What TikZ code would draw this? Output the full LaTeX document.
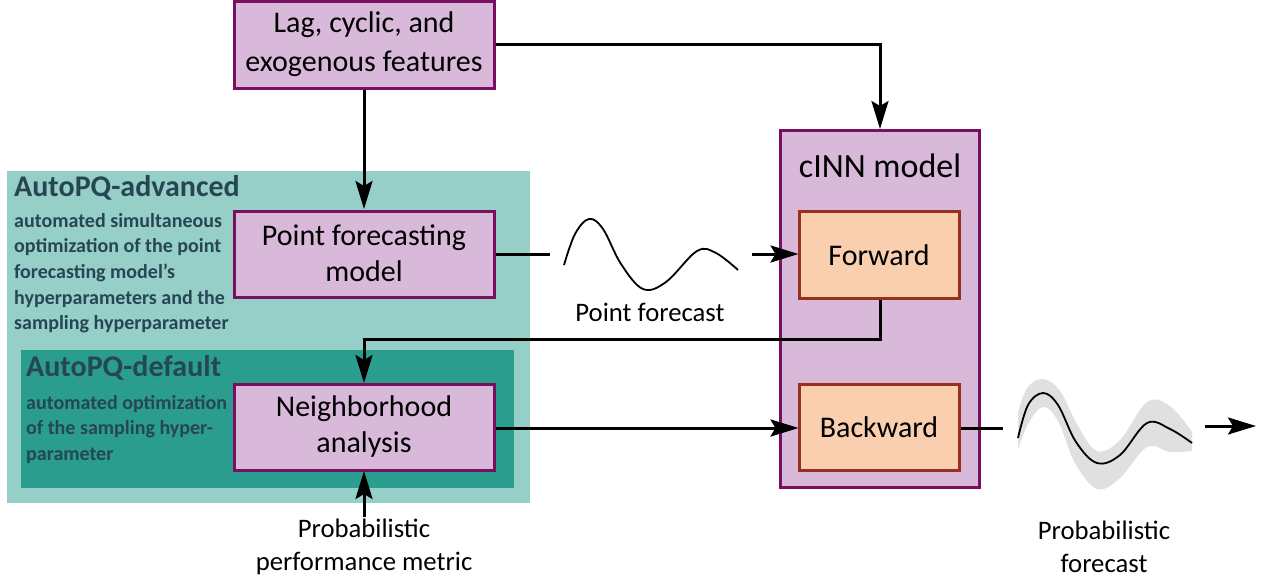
\documentclass[tikz,border=0pt]{standalone}
\usepackage{fontspec}
\setmainfont{Carlito}
\usetikzlibrary{arrows.meta}
\definecolor{boxfill}{HTML}{D9B9DA}
\definecolor{boxline}{HTML}{7A0F62}
\definecolor{subfill}{HTML}{F9CFB0}
\definecolor{subline}{HTML}{983020}
\definecolor{advfill}{HTML}{96CFC8}
\definecolor{deffill}{HTML}{2A9D8F}
\definecolor{headtxt}{HTML}{264653}
\definecolor{bandgrey}{HTML}{E0E0E0}
\tikzset{
  box/.style={draw=boxline, fill=boxfill, line width=3pt, inner sep=0pt},
  subbox/.style={draw=subline, fill=subfill, line width=3pt, inner sep=0pt},
  boxtext/.style={font=\fontsize{30}{36}\selectfont, align=center, inner sep=0pt},
  heading/.style={font=\fontsize{30}{36}\bfseries\selectfont, text=headtxt, inner sep=0pt, anchor=base west},
  desc/.style={font=\fontsize{20}{25.6}\bfseries\selectfont, text=headtxt, inner sep=0pt, align=left, anchor=north west},
  flow/.style={line width=3pt, -{Stealth[length=28pt,width=17pt,inset=5pt]}},
  plain/.style={line width=3pt},
  label/.style={font=\fontsize{26.7}{33}\selectfont, align=center, inner sep=0pt}
}
\begin{document}
\begin{tikzpicture}[x=1pt,y=-1pt]
\useasboundingbox (0,0) rectangle (1265,581);

% optimisation regions
\fill[advfill] (7,171) rectangle (530,503);
\fill[deffill] (21,350) rectangle (514,488);
\node[heading] (advhead) at (14,196) {AutoPQ-advanced};
\node[desc] (advdesc) at (14,213) {automated simultaneous\\optimization of the point\\forecasting model's\\hyperparameters and the\\sampling hyperparameter};
\node[heading] (defhead) at (26,376) {AutoPQ-default};
\node[desc] (defdesc) at (26,395) {automated optimization\\of the sampling hyper-\\parameter};

% main blocks
\draw[box] (234,1) rectangle (494,88);
\node[boxtext, font=\fontsize{30}{39}\selectfont] (lag) at (364,44.5) {Lag, cyclic, and\\exogenous features};
\draw[box] (234,211) rectangle (494,297);
\node[boxtext] (pfm) at (364,253) {Point forecasting\\model};
\draw[box] (234,384) rectangle (494,470);
\node[boxtext] (nba) at (364,426) {Neighborhood\\analysis};

\draw[box] (780,130) rectangle (979,487);
\node[boxtext, font=\fontsize{34}{40}\selectfont] (cinn) at (880,166) {cINN model};
\draw[subbox] (799,211) rectangle (959,298);
\node[boxtext] (fwd) at (879,255) {Forward};
\draw[subbox] (799,384) rectangle (959,470);
\node[boxtext] (bwd) at (879,427) {Backward};

% anchor points on the block borders
\coordinate (lagB) at (364,89.5);
\coordinate (lagR) at (495.5,44);
\coordinate (pfmT) at (364,209);
\coordinate (pfmR) at (495.5,254);
\coordinate (cinnT) at (880,129);
\coordinate (fwdL) at (798.5,254);
\coordinate (fwdB) at (880,299.5);
\coordinate (nbaT) at (364,383);
\coordinate (nbaR) at (495.5,428);
\coordinate (nbaB) at (364,471);
\coordinate (bwdL) at (798.5,428);
\coordinate (bwdR) at (960.5,428);

% connectors
\draw[flow] (lagB) -- (pfmT);
\draw[flow] (lagR) -| (cinnT);
\coordinate (pfEnd) at (550,254);
\draw[plain] (pfmR) -- (pfEnd);
\coordinate (pfArrow) at (752,254);
\draw[flow] (pfArrow) -- (fwdL);
\draw[flow] (fwdB) -- (880,339) -| (nbaT);
\draw[flow] (nbaR) -- (bwdL);
\coordinate (bwdEnd) at (1003,428);
\draw[plain] (bwdR) -- (bwdEnd);
\coordinate (outS) at (1205,426);
\coordinate (outE) at (1256,426);
\draw[flow] (outS) -- (outE);
\coordinate (metric) at (364,517);
\draw[flow] (metric) -- (nbaB);

% point forecast curve
\draw[line width=1.8pt] plot[smooth, tension=0.6] coordinates {(564,265) (575,234) (589,219) (603,229) (621,264) (643,289) (666,282) (697,251) (716,253) (738,270)};
\node[label] (pflabel) at (650,312) {Point forecast};

% probabilistic forecast band and median curve
\fill[bandgrey] plot[smooth, tension=0.6] coordinates {(1018,413) (1027,388) (1043,379) (1060,391) (1078,426) (1097,451) (1120,440) (1147,402) (1170,406) (1192,432)}
  -- plot[smooth, tension=0.6] coordinates {(1192,451) (1170,452) (1147,447) (1120,478) (1097,489) (1075,463) (1058,421) (1043,407) (1028,424) (1018,450)} -- cycle;
\draw[line width=1.8pt] plot[smooth, tension=0.6] coordinates {(1018,438) (1028,405) (1043,393) (1058,405) (1076,442) (1097,463) (1120,455) (1147,423) (1170,429) (1192,443)};
\node[label] (probfc) at (1104,547) {Probabilistic\\forecast};
\node[label] (metriclabel) at (364,547) {Probabilistic\\performance metric};
\end{tikzpicture}
\end{document}
